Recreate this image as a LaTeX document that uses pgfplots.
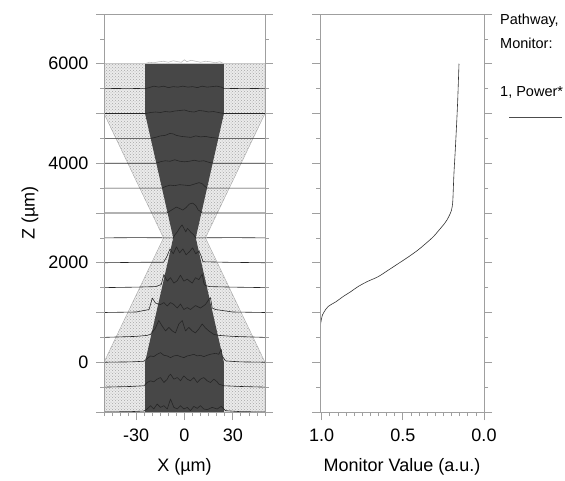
\documentclass[border=0pt]{standalone}
\usepackage{fontspec}
\setmainfont{Liberation Sans}
\usepackage{pgfplots}
\pgfplotsset{compat=1.18}
\usetikzlibrary{patterns}

\pgfplotsset{
  panel/.style={
    scale only axis, height=398pt,
    ymin=-1000, ymax=7000,
    ytick={0,2000,4000,6000},
    extra y ticks={-1000,1000,3000,5000,7000},
    extra y tick labels={},
    minor ytick={-500,500,...,6500},
    xtick pos=bottom, ytick pos=both, tick align=outside,
    major tick length=8pt, minor tick length=4pt,
    axis line style={gray!75, line width=0.8pt},
    tick style={gray!75, line width=0.7pt},
    tick label style={font=\fontsize{18}{20}\selectfont, black},
    xticklabel style={yshift=-5pt},
    yticklabel style={xshift=-4pt},
    every axis x label/.style={at={(axis description cs:0.5,-0.138)}, anchor=center,
      font=\fontsize{18}{20}\selectfont},
    axis on top,
  },
  prof/.style={black!85, line width=0.6pt, line join=round},
}

\begin{document}
\begin{tikzpicture}
\useasboundingbox (0,0) rectangle (565pt,480pt);

% ---------------- left panel: beam profiles ----------------
\begin{axis}[panel, at={(104pt,68pt)}, anchor=south west, width=161pt,
  xmin=-50, xmax=50,
  xtick={-30,0,30}, xticklabels={-30,0,30},
  minor xtick={-50,-45,...,50},
  yticklabels={0,2000,4000,6000},
  xlabel={X (µm)},
  ylabel={Z (µm)},
  every axis y label/.style={at={(axis description cs:-0.46,0.5)}, rotate=90, anchor=center,
    font=\fontsize{18}{20}\selectfont},
]
% stippled envelope
\addplot[fill=gray!16, draw=gray!70, line width=0.4pt] coordinates {
  (-50,-1000) (50,-1000) (50,0) (13,2500) (50,5000) (50,6000)
  (-50,6000) (-50,5000) (-13,2500) (-50,0)} -- cycle;
\addplot[draw=none, pattern=crosshatch dots, pattern color=gray!70] coordinates {
  (-50,-1000) (50,-1000) (50,0) (13,2500) (50,5000) (50,6000)
  (-50,6000) (-50,5000) (-13,2500) (-50,0)} -- cycle;
% dark core
\addplot[fill=black!72, draw=none] coordinates {
  (-24.5,-1000) (24.5,-1000) (24.5,0) (7,2500) (24.5,5000) (24.5,6000)
  (-24.5,6000) (-24.5,5000) (-7,2500) (-24.5,0)} -- cycle;

% profiles
\addplot[gray!50, line width=0.6pt] coordinates {
  (-50,6000)(-24.5,6000)(-22,6030)(-19,6020)(-16,6040)(-13,6050)(-10,6030)(-7,6060)
  (-4,6040)(-2,6030)(0,6080)(1.5,6040)(4,6070)(7,6050)(10,6030)(13,6050)(16,6040)
  (19,6020)(22,6040)(24.5,6000)(50,6000)};
\addplot[prof] coordinates {
  (-50,5500)(-35,5505)(-24.5,5500)(-22,5520)(-19,5550)(-16,5530)(-13,5550)(-10,5520)
  (-7,5540)(-4,5530)(-1,5550)(2,5530)(5,5540)(8,5520)(11,5550)(14,5530)(17,5540)
  (20,5550)(23,5530)(24.5,5500)(37,5505)(50,5500)};
\addplot[prof] coordinates {
  (-50,5000)(-24.5,5000)(-21,5020)(-18,5030)(-15,5020)(-12,5040)(-9,5030)(-6,5050)
  (-3,5060)(0,5070)(3,5040)(6,5030)(9,5060)(12,5050)(15,5030)(18,5040)(21,5020)
  (24.5,5000)(50,5000)};
\addplot[prof] coordinates {
  (-50,4500)(-21,4500)(-18,4520)(-15,4550)(-12,4560)(-9,4600)(-7,4590)(-5,4560)
  (-2,4540)(1,4530)(4,4520)(7,4550)(10,4530)(13,4540)(16,4520)(19,4510)(21,4500)(50,4500)};
\addplot[prof] coordinates {
  (-50,4000)(-17.7,4000)(-15,4030)(-12,4050)(-9,4040)(-6,4070)(-3,4040)(0,4030)
  (3,4040)(6,4060)(9,4040)(12,4050)(15,4020)(17.7,4000)(50,4000)};
\addplot[prof] coordinates {
  (-50,3500)(-14,3500)(-12,3530)(-9,3560)(-6,3550)(-3,3570)(0,3560)(3,3550)(6,3580)
  (9,3610)(11,3590)(12.5,3540)(14,3500)(50,3500)};
\addplot[prof] coordinates {
  (-50,3000)(-11,3000)(-9,3040)(-7,3080)(-5,3120)(-3,3090)(-1,3060)(1,3110)(3,3180)
  (5,3200)(7,3150)(8.5,3060)(10,3030)(11,3000)(50,3000)};
\addplot[prof] coordinates {
  (-50,2500)(-30,2505)(-7,2500)(-6,2560)(-4.5,2620)(-3,2700)(-1.5,2760)(0,2670)
  (0.8,2620)(1.8,2690)(3,2650)(4,2610)(5.5,2570)(7,2500)(30,2505)(50,2500)};
\addplot[prof] coordinates {
  (-50,2000)(-25,2010)(-13,2010)(-11,2120)(-9,2280)(-7,2180)(-5,2320)(-3,2200)
  (-1,2280)(1,2160)(3,2220)(5,2300)(7,2180)(9,2240)(10.5,2120)(11.5,2020)(25,2010)(50,2000)};
\addplot[prof] coordinates {
  (-50,1500)(-30,1510)(-18,1520)(-14.5,1560)(-12.8,1760)(-10.7,1630)(-8.7,1700)
  (-6.6,1590)(-4.5,1640)(-2.5,1750)(-0.4,1630)(1.7,1670)(4.8,1590)(6.8,1700)
  (8.9,1660)(11,1770)(12,1590)(13,1540)(16,1520)(30,1510)(50,1500)};
\addplot[prof] coordinates {
  (-50,1000)(-30,1010)(-22,1060)(-20,1290)(-18,1190)(-14.9,1160)(-12.8,1200)
  (-10.7,1130)(-8.7,1200)(-6.6,1160)(-4.5,1090)(-2.5,1170)(-0.4,1060)(1.7,1100)
  (3.7,1060)(6.8,1140)(9.9,1090)(13,1160)(15.1,1260)(16.1,1300)(17.2,1090)
  (19.3,1060)(30,1010)(50,1000)};
\addplot[prof] coordinates {
  (-50,500)(-30,520)(-23.2,540)(-21.1,560)(-18,690)(-16,840)(-13.9,730)(-11.8,630)
  (-9.7,700)(-7.6,630)(-5.6,590)(-3.5,770)(-1.4,840)(0.6,630)(2.7,700)(4.8,630)
  (6.8,590)(8.9,670)(11,770)(13,690)(15.1,630)(18.2,560)(21.3,540)(30,520)(50,500)};
\addplot[prof] coordinates {
  (-50,0)(-33.5,7)(-25.2,20)(-23.2,73)(-21.1,127)(-19.1,113)(-17,160)(-14.9,193)
  (-12.8,140)(-10.7,127)(-8.7,93)(-6.6,127)(-4.5,140)(-2.5,113)(-0.4,93)(1.7,127)
  (3.7,140)(5.8,160)(7.9,127)(9.9,140)(12,113)(14.1,140)(16.1,160)(19.3,180)
  (21.3,160)(22.8,260)(23.4,127)(25.5,27)(34.8,7)(50,0)};
\addplot[prof] coordinates {
  (-50,-500)(-33.5,-487)(-25.2,-473)(-23.2,-407)(-21.1,-373)(-19.1,-393)(-17,-340)
  (-14.9,-307)(-12.8,-407)(-10.7,-340)(-9.7,-273)(-8.7,-240)(-6.6,-340)(-4.5,-307)
  (-2.5,-373)(-0.4,-273)(1.7,-340)(3.7,-373)(5.8,-307)(7.9,-407)(9.9,-340)(12,-307)
  (14.1,-373)(16.1,-407)(18.2,-340)(20.3,-393)(21.3,-440)(24.5,-473)(34.8,-487)(50,-500)};
\addplot[prof] coordinates {
  (-50,-1000)(-33.5,-993)(-25.2,-980)(-23.2,-940)(-21.1,-873)(-19.1,-940)(-17,-840)
  (-14.9,-907)(-12.8,-873)(-10.7,-940)(-8.7,-740)(-6.6,-907)(-4.5,-940)(-2.5,-873)
  (-0.4,-940)(1.7,-907)(3.7,-973)(5.8,-887)(7.9,-927)(9.9,-873)(12,-940)(14.1,-953)
  (17.2,-907)(20.3,-940)(22.8,-887)(25.5,-973)(34.8,-993)(50,-1000)};
\end{axis}

% ---------------- right panel: monitor value ----------------
\begin{axis}[panel, at={(320pt,68pt)}, anchor=south west, width=164pt,
  xmin=0, xmax=1.01, x dir=reverse,
  xtick={0,0.5,1}, xticklabels={0.0,0.5,1.0},
  minor xtick={0,0.05,...,1.01},
  yticklabels={},
  xlabel={Monitor Value (a.u.)},
]
\addplot[black!80, line width=0.6pt, smooth] coordinates {
  (1.01,650)(1.005,800)(0.995,950)(0.985,1010)(0.96,1120)(0.91,1220)(0.868,1320)
  (0.82,1420)(0.776,1520)(0.72,1620)(0.652,1720)(0.59,1850)(0.52,2000)(0.46,2130)
  (0.405,2260)(0.354,2400)(0.31,2530)(0.276,2660)(0.245,2780)(0.228,2860)
  (0.212,2960)(0.2,3060)(0.193,3200)(0.19,3400)(0.185,3800)(0.178,4200)
  (0.17,4700)(0.162,5260)(0.154,6000)};
\end{axis}

% legend
\begin{scope}[every node/.style={anchor=base west, inner sep=0pt, font=\fontsize{14.5}{16}\selectfont}]
\node at (500pt,455pt) {Pathway,};
\node at (500pt,431.5pt) {Monitor:};
\node at (500pt,383pt) {1, Power*};
\end{scope}
\draw[black!70, line width=0.6pt] (509pt,363pt) -- (562pt,363pt);
\end{tikzpicture}
\end{document}
